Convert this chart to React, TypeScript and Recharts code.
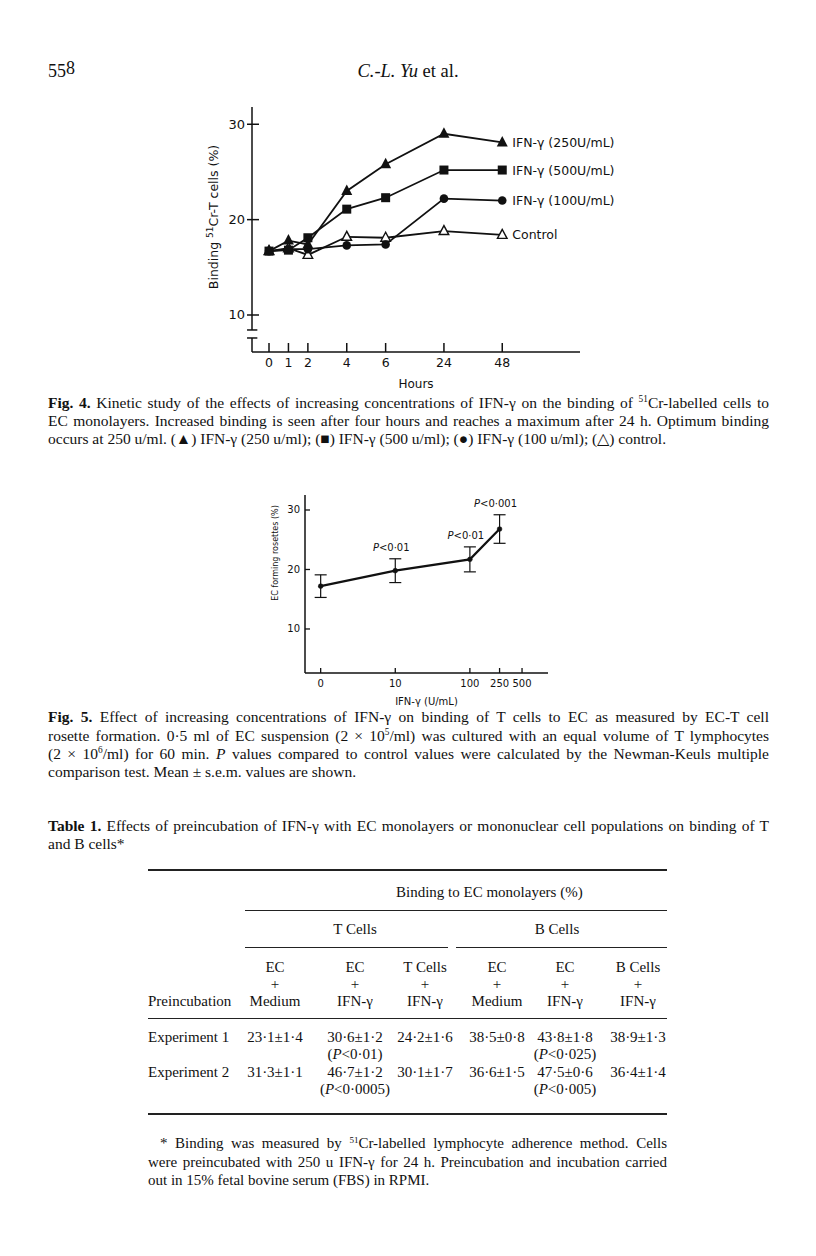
import React from "react";
import { ErrorBar, LabelList, Line, LineChart, ReferenceLine, XAxis, YAxis } from "recharts";

// Fig. 4 — binding of 51Cr-T cells over time
const hours = [0, 1, 2, 4, 6, 24, 48];
// the hour axis is printed unevenly: 0,1,2 close together, then wider steps
const hourSlots = [0, 1, 2, 4, 6, 9, 12];
const ifn250 = [16.7, 17.8, 17.4, 23.0, 25.8, 29.0, 28.1];
const ifn500 = [16.7, 16.8, 18.1, 21.1, 22.3, 25.2, 25.2];
const ifn100 = [16.7, 16.9, 16.9, 17.3, 17.4, 22.2, 22.0];
const control = [16.7, 17.0, 16.3, 18.2, 18.1, 18.8, 18.4];
const seriesNames = ["IFN-γ (250U/mL)", "IFN-γ (500U/mL)", "IFN-γ (100U/mL)", "Control"];
const fig4YTicks = [10, 20, 30];

// Fig. 5 — EC rosettes vs IFN-γ dose
const doses = [0, 10, 100, 250];
const rosetteMean = [17.2, 19.8, 21.7, 26.8];
const rosetteSem = [1.9, 2.0, 2.1, 2.4];
const pLabels = ["", "P<0·01", "P<0·01", "P<0·001"];
const doseTicks = [0, 10, 100, 250, 500];
const fig5YTicks = [10, 20, 30];

// Table 1
const headTop = ["EC", "EC", "T Cells", "EC", "EC", "B Cells"];
const headBottom = ["Medium", "IFN-γ", "IFN-γ", "Medium", "IFN-γ", "IFN-γ"];
const exp1 = ["23·1±1·4", "30·6±1·2", "24·2±1·6", "38·5±0·8", "43·8±1·8", "38·9±1·3"];
const exp1P = ["", "P<0·01", "", "", "P<0·025", ""];
const exp2 = ["31·3±1·1", "46·7±1·2", "30·1±1·7", "36·6±1·5", "47·5±0·6", "36·4±1·4"];
const exp2P = ["", "P<0·0005", "", "", "P<0·005", ""];

const last = hours.length - 1;
const fig4Data = hours.map((h, i) => ({
  slot: hourSlots[i],
  hour: h,
  a: ifn250[i],
  b: ifn500[i],
  c: ifn100[i],
  d: control[i],
  aName: i === last ? seriesNames[0] : null,
  bName: i === last ? seriesNames[1] : null,
  cName: i === last ? seriesNames[2] : null,
  dName: i === last ? seriesNames[3] : null,
}));

const doseSlot = (d: number) => Math.log10(Math.max(d, 1));

const fig5Data = doses.map((d, i) => ({
  pos: doseSlot(d),
  mean: rosetteMean[i],
  sem: rosetteSem[i],
  top: rosetteMean[i] + rosetteSem[i],
  p: pLabels[i] || null,
}));

const SANS = "DejaVu Sans";
const INK = "#111";

const triFilled = (p: any) => (
  <polygon key={p.key} points={`${p.cx},${p.cy - 6.5} ${p.cx - 5.5},${p.cy + 4} ${p.cx + 5.5},${p.cy + 4}`} fill={INK} />
);
const squareFilled = (p: any) => <rect key={p.key} x={p.cx - 4.5} y={p.cy - 4.5} width={9} height={9} fill={INK} />;
const circleFilled = (p: any) => <circle key={p.key} cx={p.cx} cy={p.cy} r={4.3} fill={INK} />;
const triOpen = (p: any) => (
  <polygon
    key={p.key}
    points={`${p.cx},${p.cy - 5.5} ${p.cx - 4.8},${p.cy + 3.5} ${p.cx + 4.8},${p.cy + 3.5}`}
    fill="#fff"
    stroke={INK}
    strokeWidth={1.4}
  />
);

const endLabel = (p: any) => {
  if (!p.value) return null;
  const x = p.x ?? p.viewBox?.x;
  const y = p.y ?? p.viewBox?.y;
  return (
    <text x={x + 10} y={y + 4.5} fontSize={12.5} fontFamily={SANS} fill={INK}>
      {p.value}
    </text>
  );
};

const Fig4YTick = (p: any) => (
  <g>
    <line x1={p.x - 5} x2={p.x + 7} y1={p.y} y2={p.y} stroke={INK} strokeWidth={1.5} />
    <text x={p.x - 7} y={p.y + 4.5} textAnchor="end" fontSize={13} fontFamily={SANS} fill={INK}>
      {p.payload.value}
    </text>
  </g>
);

const Fig4XTick = (p: any) => (
  <g>
    <line x1={p.x} x2={p.x} y1={p.y - 9} y2={p.y} stroke={INK} strokeWidth={1.5} />
    <text x={p.x} y={p.y + 14.5} textAnchor="middle" fontSize={12.5} fontFamily={SANS} fill={INK}>
      {hours[hourSlots.indexOf(p.payload.value)]}
    </text>
  </g>
);

const Fig5YTick = (p: any) => (
  <g>
    <line x1={p.x} x2={p.x + 5} y1={p.y} y2={p.y} stroke={INK} strokeWidth={1.3} />
    <text x={p.x - 5} y={p.y + 3.5} textAnchor="end" fontSize={10} fontFamily={SANS} fill={INK}>
      {p.payload.value}
    </text>
  </g>
);

const Fig5XTick = (p: any) => {
  const idx = doseTicks.findIndex((d) => Math.abs(doseSlot(d) - p.payload.value) < 1e-6);
  return (
    <g>
      <line x1={p.x} x2={p.x} y1={p.y - 5} y2={p.y} stroke={INK} strokeWidth={1.3} />
      <text x={p.x} y={p.y + 13.5} textAnchor="middle" fontSize={10} fontFamily={SANS} fill={INK}>
        {doseTicks[idx]}
      </text>
    </g>
  );
};

const pLabel = (p: any) => {
  if (!p.value) return null;
  const x = p.x ?? p.viewBox?.x;
  const y = p.y ?? p.viewBox?.y;
  const s = String(p.value);
  return (
    <text x={x - 4} y={y - 8} textAnchor="middle" fontSize={10} fontFamily={SANS} fill={INK}>
      <tspan fontStyle="italic">P</tspan>
      {s.slice(1)}
    </text>
  );
};

function Fig4() {
  const xl = -0.875;
  return (
    <LineChart width={440} height={300} data={fig4Data} margin={{ top: 12, right: 50, bottom: 0, left: 0 }}>
      <XAxis
        dataKey="slot"
        type="number"
        domain={[xl, 16]}
        ticks={hourSlots}
        interval={0}
        allowDataOverflow
        tickSize={0}
        tickMargin={0}
        height={43}
        tick={<Fig4XTick />}
        axisLine={{ stroke: INK, strokeWidth: 1.5 }}
        label={{ value: "Hours", position: "insideBottom", offset: 7, fontSize: 12, fontFamily: SANS, fill: INK }}
      />
      <YAxis
        type="number"
        domain={[6.12, 31.81]}
        ticks={fig4YTicks}
        interval={0}
        allowDataOverflow
        width={62}
        tickSize={0}
        tickMargin={0}
        axisLine={false}
        tick={<Fig4YTick />}
        label={{
          content: () => (
            <text transform="translate(28,122) rotate(-90)" textAnchor="middle" fontSize={12.5} fontFamily={SANS} fill={INK}>
              Binding <tspan fontSize={9} dy={-5}>51</tspan>
              <tspan dy={5}>Cr-T cells (%)</tspan>
            </text>
          ),
        }}
      />
      {/* y axis with the break near the bottom */}
      <ReferenceLine segment={[{ x: xl, y: 8.43 }, { x: xl, y: 31.81 }]} stroke={INK} strokeWidth={1.5} ifOverflow="visible" />
      <ReferenceLine segment={[{ x: -1.13, y: 8.43 }, { x: -0.6, y: 8.43 }]} stroke={INK} strokeWidth={1.5} ifOverflow="visible" />
      <ReferenceLine segment={[{ x: -1.13, y: 7.59 }, { x: -0.6, y: 7.59 }]} stroke={INK} strokeWidth={1.5} ifOverflow="visible" />
      <ReferenceLine segment={[{ x: xl, y: 7.59 }, { x: xl, y: 6.12 }]} stroke={INK} strokeWidth={1.5} ifOverflow="visible" />

      <Line dataKey="d" stroke={INK} strokeWidth={1.8} dot={triOpen} isAnimationActive={false}>
        <LabelList dataKey="dName" content={endLabel} />
      </Line>
      <Line dataKey="c" stroke={INK} strokeWidth={1.8} dot={circleFilled} isAnimationActive={false}>
        <LabelList dataKey="cName" content={endLabel} />
      </Line>
      <Line dataKey="b" stroke={INK} strokeWidth={1.8} dot={squareFilled} isAnimationActive={false}>
        <LabelList dataKey="bName" content={endLabel} />
      </Line>
      <Line dataKey="a" stroke={INK} strokeWidth={1.8} dot={triFilled} isAnimationActive={false}>
        <LabelList dataKey="aName" content={endLabel} />
      </Line>
    </LineChart>
  );
}

function Fig5() {
  return (
    <LineChart width={310} height={220} data={fig5Data} margin={{ top: 5, right: 12, bottom: 0, left: 0 }}>
      <XAxis
        dataKey="pos"
        type="number"
        domain={[-0.21, 3.047]}
        ticks={doseTicks.map(doseSlot)}
        interval={0}
        allowDataOverflow
        tickSize={0}
        tickMargin={0}
        height={37}
        tick={<Fig5XTick />}
        axisLine={{ stroke: INK, strokeWidth: 1.5 }}
        label={{ value: "IFN-γ (U/mL)", position: "insideBottom", offset: 5, fontSize: 10, fontFamily: SANS, fill: INK }}
      />
      <YAxis
        type="number"
        domain={[2.6, 32.52]}
        ticks={fig5YTicks}
        interval={0}
        allowDataOverflow
        width={55}
        tickSize={0}
        tickMargin={0}
        axisLine={{ stroke: INK, strokeWidth: 1.5 }}
        tick={<Fig5YTick />}
        label={{
          content: () => (
            <text transform="translate(28,63) rotate(-90)" textAnchor="middle" fontSize={8} fontFamily={SANS} fill={INK}>
              EC forming rosettes (%)
            </text>
          ),
        }}
      />
      <Line
        dataKey="mean"
        stroke={INK}
        strokeWidth={2.2}
        dot={{ r: 2.4, fill: INK, stroke: INK, strokeWidth: 0.5 }}
        isAnimationActive={false}
      >
        <ErrorBar dataKey="sem" width={6} stroke={INK} strokeWidth={1.2} direction="y" />
      </Line>
      <Line dataKey="top" stroke="none" dot={false} isAnimationActive={false}>
        <LabelList dataKey="p" content={pLabel} />
      </Line>
    </LineChart>
  );
}

const serif = '"Liberation Serif", "Times New Roman", serif';

function TextLine({
  top,
  left = 48,
  width = 721,
  justify = true,
  size = 15.5,
  children,
}: {
  top: number;
  left?: number;
  width?: number;
  justify?: boolean;
  size?: number;
  children: React.ReactNode;
}) {
  return (
    <div
      style={{
        position: "absolute",
        top: top - 9,
        left,
        width,
        fontSize: size,
        lineHeight: "18px",
        textAlign: "justify",
        textAlignLast: justify ? "justify" : "left",
      }}
    >
      {children}
    </div>
  );
}

function Cell({ cx, cy, children }: { cx: number; cy: number; children: React.ReactNode }) {
  return (
    <div
      style={{
        position: "absolute",
        left: cx - 60,
        top: cy - 9,
        width: 120,
        textAlign: "center",
        fontSize: 15,
        lineHeight: "18px",
        whiteSpace: "nowrap",
      }}
    >
      {children}
    </div>
  );
}

function Rule({ y, x1, x2, w = 1 }: { y: number; x1: number; x2: number; w?: number }) {
  return <div style={{ position: "absolute", left: x1, top: y, width: x2 - x1, height: w, background: "#222" }} />;
}

const pCell = (s: string) =>
  s ? (
    <>
      (<i>P</i>
      {s.slice(1)})
    </>
  ) : null;

const colX = [275, 355, 425, 497, 565, 638];
const sup = { fontSize: "0.6em", verticalAlign: "0.6em", lineHeight: 0 } as React.CSSProperties;
const leftCell = { position: "absolute", left: 148, fontSize: 15, lineHeight: "18px" } as React.CSSProperties;

export default function App() {
  return (
    <div
      style={{
        position: "absolute",
        left: 0,
        top: 0,
        width: 816,
        height: 1256,
        background: "#fff",
        fontFamily: serif,
        color: INK,
        overflow: "hidden",
      }}
    >
      <div style={{ position: "absolute", left: 48, top: 61, fontSize: 18 }}>
        55<span style={{ position: "relative", top: -3 }}>8</span>
      </div>
      <div style={{ position: "absolute", left: 300, width: 216, top: 61, fontSize: 18.5, textAlign: "center" }}>
        <i>C.-L. Yu</i> et al.
      </div>

      <div style={{ position: "absolute", left: 190, top: 95 }}>
        <Fig4 />
      </div>

      <TextLine top={403}>
        <b>Fig. 4.</b> Kinetic study of the effects of increasing concentrations of IFN-γ on the binding of{" "}
        <span style={sup}>51</span>Cr-labelled cells to
      </TextLine>
      <TextLine top={421}>
        EC monolayers. Increased binding is seen after four hours and reaches a maximum after 24 h. Optimum binding
      </TextLine>
      <TextLine top={439} justify={false}>
        occurs at 250 u/ml. (▲) IFN-γ (250 u/ml); (■) IFN-γ (500 u/ml); (●) IFN-γ (100 u/ml); (△) control.
      </TextLine>

      <div style={{ position: "absolute", left: 250, top: 490 }}>
        <Fig5 />
      </div>

      <TextLine top={717}>
        <b>Fig. 5.</b> Effect of increasing concentrations of IFN-γ on binding of T cells to EC as measured by EC-T cell
      </TextLine>
      <TextLine top={736}>
        rosette formation. 0·5 ml of EC suspension (2 × 10<span style={sup}>5</span>/ml) was cultured with an equal
        volume of T lymphocytes
      </TextLine>
      <TextLine top={754}>
        (2 × 10<span style={sup}>6</span>/ml) for 60 min. <i>P</i> values compared to control values were calculated
        by the Newman-Keuls multiple
      </TextLine>
      <TextLine top={772} justify={false}>
        comparison test. Mean ± s.e.m. values are shown.
      </TextLine>

      <TextLine top={826}>
        <b>Table 1.</b> Effects of preincubation of IFN-γ with EC monolayers or mononuclear cell populations on binding
        of T
      </TextLine>
      <TextLine top={844} justify={false}>
        and B cells*
      </TextLine>

      <Rule y={869} x1={148} x2={667} w={1.6} />
      <Cell cx={456} cy={892}>
        Binding to EC monolayers (%)
      </Cell>
      <Rule y={910} x1={245} x2={667} />
      <Cell cx={355} cy={929}>
        T Cells
      </Cell>
      <Cell cx={557} cy={929}>
        B Cells
      </Cell>
      <Rule y={947} x1={245} x2={448} />
      <Rule y={947} x1={456} x2={667} />
      {colX.map((x, i) => (
        <React.Fragment key={i}>
          <Cell cx={x} cy={967}>
            {headTop[i]}
          </Cell>
          <Cell cx={x} cy={984}>
            +
          </Cell>
          <Cell cx={x} cy={1001}>
            {headBottom[i]}
          </Cell>
          <Cell cx={x} cy={1037}>
            {exp1[i]}
          </Cell>
          <Cell cx={x} cy={1054}>
            {pCell(exp1P[i])}
          </Cell>
          <Cell cx={x} cy={1072}>
            {exp2[i]}
          </Cell>
          <Cell cx={x} cy={1089}>
            {pCell(exp2P[i])}
          </Cell>
        </React.Fragment>
      ))}
      <div style={{ ...leftCell, top: 992 }}>Preincubation</div>
      <Rule y={1018} x1={148} x2={667} />
      <div style={{ ...leftCell, top: 1028 }}>Experiment 1</div>
      <div style={{ ...leftCell, top: 1063 }}>Experiment 2</div>
      <Rule y={1113} x1={148} x2={667} w={1.6} />

      <TextLine top={1143} left={160} width={507} size={15}>
        * Binding was measured by <span style={sup}>51</span>Cr-labelled lymphocyte adherence method. Cells
      </TextLine>
      <TextLine top={1162} left={148} width={519} size={15}>
        were preincubated with 250 u IFN-γ for 24 h. Preincubation and incubation carried
      </TextLine>
      <TextLine top={1180} left={148} width={519} size={15} justify={false}>
        out in 15% fetal bovine serum (FBS) in RPMI.
      </TextLine>
    </div>
  );
}
